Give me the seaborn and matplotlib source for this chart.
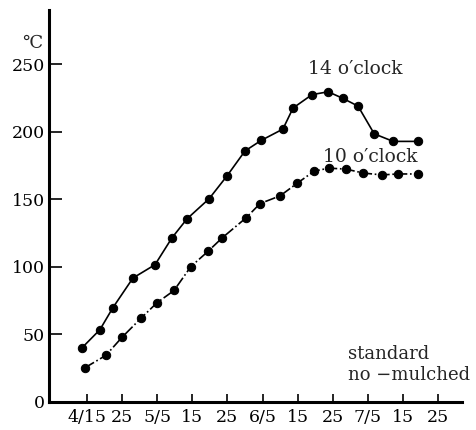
import pandas as pd
import matplotlib
matplotlib.use("Agg")
import matplotlib.pyplot as plt
import seaborn as sns

# days counted from 4/15 (tick labels every 10 days)
days_14 = [-1.4, 3.7, 7.4, 13.1, 19.4, 24.2, 28.5, 34.8, 39.9, 45.0,
           49.6, 55.8, 58.7, 64.1, 68.7, 72.9, 77.2, 81.8, 87.2, 94.3]
temp_14 = [40.1, 53.5, 69.8, 91.7, 101.6, 121.4, 135.5, 150.4, 167.3, 185.7,
           193.5, 201.9, 217.5, 227.4, 229.5, 224.6, 218.9, 198.4, 192.8, 192.8]

days_10 = [-0.6, 5.4, 10.0, 15.4, 19.9, 24.8, 29.6, 34.5, 38.5, 45.3,
           49.3, 55.0, 59.8, 64.7, 68.9, 73.8, 78.6, 84.0, 88.6, 94.3]
temp_10 = [25.3, 34.5, 47.9, 62.0, 73.3, 82.5, 100.2, 111.5, 121.4, 136.2,
           146.8, 152.5, 161.7, 170.8, 173.0, 172.3, 169.4, 168.0, 168.7, 168.7]

tick_days = [0, 10, 20, 30, 40, 50, 60, 70, 80, 90, 100]
tick_labels = ["4/15", "25", "5/5", "15", "25", "6/5", "15", "25", "7/5", "15", "25"]
y_ticks = [0, 50, 100, 150, 200, 250]

df14 = pd.DataFrame({"day": days_14, "temp": temp_14})
df10 = pd.DataFrame({"day": days_10, "temp": temp_10})

sns.set_style("ticks")
plt.rcParams["font.family"] = ["DejaVu Serif"]

fig = plt.figure(figsize=(4.77, 4.30), dpi=100)
ax = fig.add_axes([49 / 477, 28 / 430, 413 / 477, 392 / 430])

sns.lineplot(data=df14, x="day", y="temp", ax=ax, color="black", linewidth=1.2,
             linestyle="-", marker="o", markersize=6, markeredgecolor="black", sort=False)
sns.lineplot(data=df10, x="day", y="temp", ax=ax, color="black", linewidth=1.2,
             linestyle="-.", marker="o", markersize=6, markeredgecolor="black", sort=False)

ax.set_xlim(-10.8, 106.8)
ax.set_ylim(0, 290)
ax.set_xticks(tick_days)
ax.set_xticklabels(tick_labels, fontsize=12.5)
ax.set_yticks(y_ticks)
ax.set_yticklabels([str(v) for v in y_ticks], fontsize=12.5)
ax.set_xlabel("")
ax.set_ylabel("")

sns.despine(ax=ax)
for side in ["left", "bottom"]:
    ax.spines[side].set_linewidth(2.2)
    ax.spines[side].set_color("black")
ax.tick_params(axis="y", direction="in", length=9, width=1.2, pad=3, colors="black")
ax.tick_params(axis="x", direction="in", length=6, width=1.2, pad=5, colors="black")

ax.text(63.0, 246, "14 o\u2032clock", fontsize=13.5, va="center", ha="left")
ax.text(67.2, 181, "10 o\u2032clock", fontsize=13.5, va="center", ha="left")
ax.text(74.4, 35.5, "standard", fontsize=13, va="center", ha="left")
ax.text(74.4, 20.0, "no \u2212mulched", fontsize=13, va="center", ha="left")
fig.text(22 / 477, 1 - 43 / 430, "\u2103", fontsize=13, va="center", ha="left")

fig.savefig("out.png", dpi=100, facecolor="white")
